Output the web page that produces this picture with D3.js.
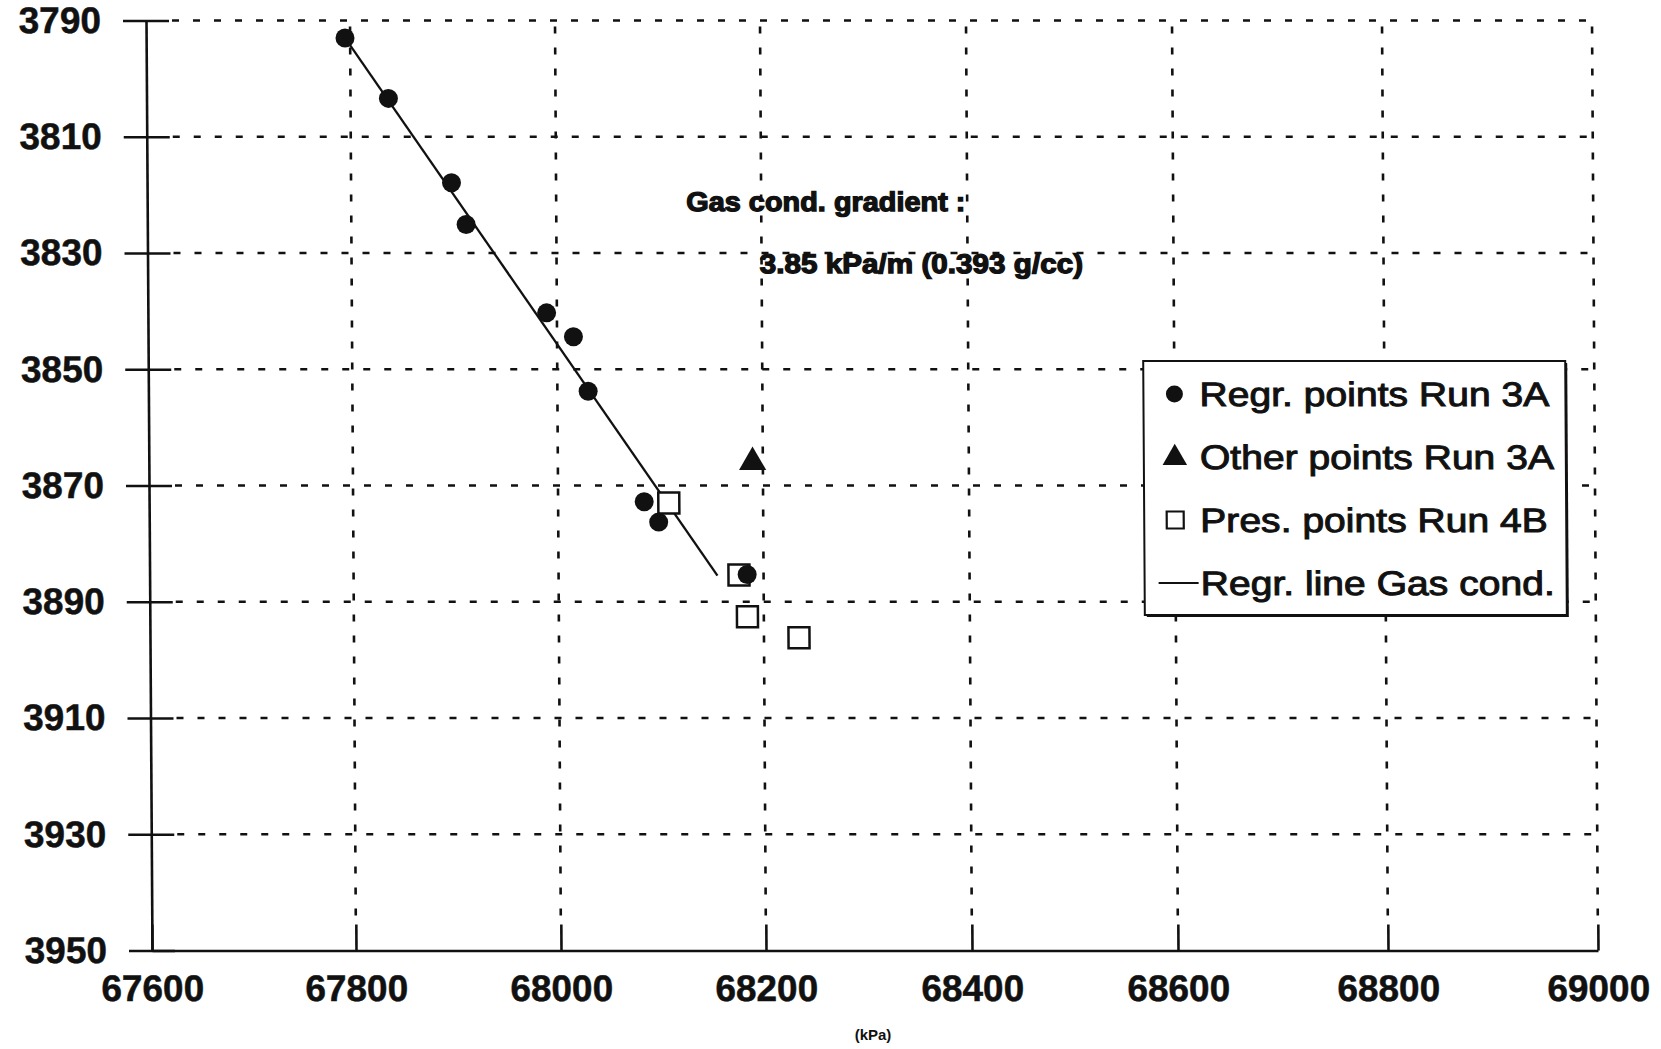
<!DOCTYPE html>
<html><head><meta charset="utf-8">
<script src="https://cdn.jsdelivr.net/npm/d3@7"></script>
<style>body{margin:0;background:#fff}svg{display:block;background:#fff}</style>
</head><body>
<svg id="chart" width="1661" height="1049"></svg>
<script>
// ---- data ----
const xTicks = [67600, 67800, 68000, 68200, 68400, 68600, 68800, 69000];
const yTicks = [3790, 3810, 3830, 3850, 3870, 3890, 3910, 3930, 3950];
const regrX = [67795, 67837, 67898, 67912, 67990, 68016, 68030, 68084, 68098, 68184];
const regrY = [3793.0, 3803.4, 3817.9, 3825.1, 3840.3, 3844.4, 3853.8, 3872.8, 3876.3, 3885.3];
const otherX = [68190];
const otherY = [3866];
const presX = [68108, 68176, 68184, 68234];
const presY = [3873.0, 3885.4, 3892.6, 3896.2];
const lineX = [67795, 68155];
const lineY = [3793, 3885.5];
const legendLabels = ["Regr. points Run 3A", "Other points Run 3A", "Pres. points Run 4B", "Regr. line Gas cond."];
const legendSymbols = ["circle", "triangle", "square", "line"];
const annotationLines = ["Gas cond. gradient :", "3.85 kPa/m (0.393 g/cc)"];
const xUnit = "(kPa)";

// ---- layout ----
const FONT = "'Liberation Sans', Arial, Helvetica, sans-serif";
const svg = d3.select("#chart");
// the scanned original is slightly unevenly stretched along x: piecewise-linear scale
const x = d3.scaleLinear().domain(xTicks).range([152, 356, 561, 766, 972, 1178, 1388, 1598]);
const y = d3.scaleLinear().domain([3790, 3950]).range([20.5, 950.5]);
const y0 = y(3950);
const skew = Math.atan(6 / 930) * 180 / Math.PI;
const g = svg.append("g")
  .attr("transform", `translate(0,${y0}) skewX(${skew}) translate(0,${-y0})`);

const ink = "#111";

// grid lines
g.append("g").selectAll("line").data(yTicks.slice(0, -1)).join("line")
  .attr("x1", x(67600) + 26).attr("x2", x(69000))
  .attr("y1", d => y(d)).attr("y2", d => y(d))
  .attr("stroke", ink).attr("stroke-width", 2.6).attr("stroke-dasharray", "7 14");
g.append("g").selectAll("line").data(xTicks.slice(1)).join("line")
  .attr("x1", d => x(d)).attr("x2", d => x(d))
  .attr("y1", y(3790) + 6).attr("y2", y(3950) - 26)
  .attr("stroke", ink).attr("stroke-width", 2.6).attr("stroke-dasharray", "7 14");

// y axis (ticks crossing the axis)
const yAxisL = d3.axisLeft(y).tickValues(yTicks).tickSizeInner(23).tickSizeOuter(0)
  .tickPadding(22).tickFormat(d3.format("d"));
const yAxisR = d3.axisRight(y).tickValues(yTicks).tickSizeInner(23).tickSizeOuter(0).tickFormat("");
const ya = g.append("g").attr("transform", `translate(${x(67600)},0)`).call(yAxisL);
const yb = g.append("g").attr("transform", `translate(${x(67600)},0)`).call(yAxisR);
[ya, yb].forEach(s => {
  s.selectAll("path, line").attr("stroke", ink).attr("stroke-width", 2.6);
});
yb.select(".domain").remove();
ya.selectAll("text").attr("font-family", FONT).attr("font-weight", "bold")
  .attr("font-size", 37).attr("fill", ink).attr("stroke", ink).attr("stroke-width", 0.5);

// x axis (ticks pointing up)
const xAxis = d3.axisBottom(x).tickValues(xTicks).tickSizeInner(-26).tickSizeOuter(0)
  .tickPadding(24).tickFormat(d3.format("d"));
const xa = g.append("g").attr("transform", `translate(0,${y0})`).call(xAxis);
xa.selectAll("path, line").attr("stroke", ink).attr("stroke-width", 2.6);
xa.selectAll("text").attr("font-family", FONT).attr("font-weight", "bold")
  .attr("font-size", 37).attr("fill", ink).attr("stroke", ink).attr("stroke-width", 0.5);

// regression line
g.append("path")
  .datum(lineX.map((v, i) => [v, lineY[i]]))
  .attr("d", d3.line().x(d => x(d[0])).y(d => y(d[1])))
  .attr("fill", "none").attr("stroke", ink).attr("stroke-width", 2.3);

// points
const sym = (type, size) => d3.symbol().type(type).size(size)();
g.append("g").selectAll("path").data(presX.map((v, i) => [v, presY[i]])).join("path")
  .attr("transform", d => `translate(${x(d[0])},${y(d[1])})`)
  .attr("d", sym(d3.symbolSquare, 21 * 21))
  .attr("fill", "#fff").attr("stroke", ink).attr("stroke-width", 2.5);
g.append("g").selectAll("path").data(regrX.map((v, i) => [v, regrY[i]])).join("path")
  .attr("transform", d => `translate(${x(d[0])},${y(d[1])})`)
  .attr("d", sym(d3.symbolCircle, Math.PI * 9.5 * 9.5))
  .attr("fill", ink);
g.append("g").selectAll("path").data(otherX.map((v, i) => [v, otherY[i]])).join("path")
  .attr("transform", d => `translate(${x(d[0])},${y(d[1])})`)
  .attr("d", sym(d3.symbolTriangle, 320))
  .attr("fill", ink);

// annotation
const ann = g.append("g").attr("font-family", FONT).attr("font-weight", "bold")
  .attr("font-size", 27).attr("fill", ink).attr("stroke", ink).attr("stroke-width", 1.3);
ann.append("text").attr("transform", "translate(691,211) scale(1.07,1)").text(annotationLines[0]);
ann.append("text").attr("transform", "translate(764,273) scale(1.1,1)").text(annotationLines[1]);

// legend
const lg = g.append("g").attr("transform", "translate(1147,361)");
lg.append("rect").attr("x", 2).attr("y", 2).attr("width", 422).attr("height", 254).attr("fill", ink);
lg.append("rect").attr("width", 422).attr("height", 254).attr("fill", "#fff")
  .attr("stroke", ink).attr("stroke-width", 2);
const rows = lg.selectAll("g.row").data(legendLabels).join("g").attr("class", "row")
  .attr("transform", (d, i) => `translate(0,${33 + i * 63})`);
rows.each(function (d, i) {
  const r = d3.select(this);
  const s = legendSymbols[i];
  if (s === "circle") r.append("path").attr("transform", "translate(31,0)").attr("d", sym(d3.symbolCircle, Math.PI * 8.5 * 8.5)).attr("fill", ink);
  if (s === "triangle") r.append("path").attr("transform", "translate(31,1)").attr("d", sym(d3.symbolTriangle, 260)).attr("fill", ink);
  if (s === "square") r.append("path").attr("transform", "translate(31,0)").attr("d", sym(d3.symbolSquare, 17 * 17)).attr("fill", "#fff").attr("stroke", ink).attr("stroke-width", 2.2);
  if (s === "line") r.append("line").attr("x1", 14).attr("x2", 54).attr("stroke", ink).attr("stroke-width", 2);
  r.append("text").attr("transform", "translate(56,12) scale(1.15,1)")
    .attr("font-family", FONT).attr("font-size", 34).attr("fill", ink)
    .attr("stroke", ink).attr("stroke-width", 1).text(d);
});

// x unit
svg.append("text").attr("x", 873).attr("y", 1040).attr("text-anchor", "middle")
  .attr("font-family", FONT).attr("font-weight", "bold").attr("font-size", 15)
  .attr("fill", ink).text(xUnit);
</script>
</body></html>
